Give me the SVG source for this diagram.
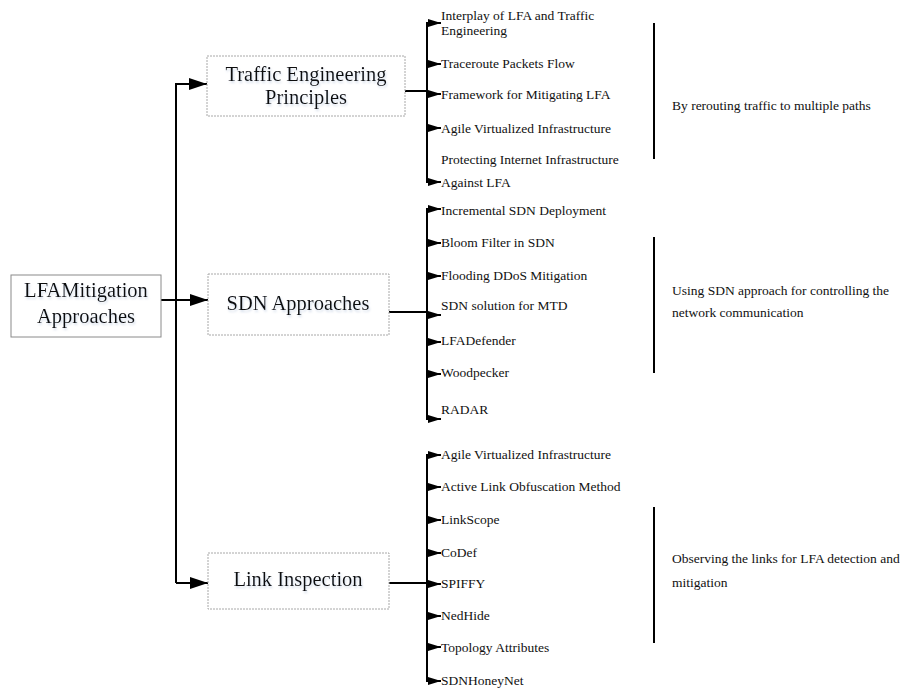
<svg xmlns="http://www.w3.org/2000/svg" width="916" height="688" viewBox="0 0 916 688">
  <defs>
    <marker id="arrowBig" markerUnits="userSpaceOnUse" markerWidth="19" markerHeight="13" refX="18" refY="6.5" orient="auto">
      <path d="M0,0.5 L18,6.5 L0,12.5 Z" fill="#000"/>
    </marker>
    <marker id="arrowSmall" markerUnits="userSpaceOnUse" markerWidth="14" markerHeight="9" refX="13" refY="4.5" orient="auto">
      <path d="M0,0.5 L13,4.5 L0,8.5 Z" fill="#000"/>
    </marker>
    <filter id="soft" x="-10%" y="-20%" width="120%" height="160%">
      <feDropShadow dx="1" dy="2" stdDeviation="1.2" flood-color="#9fb4d0" flood-opacity="0.45"/>
    </filter>
  </defs>
  <style>
    .root { fill: #fff; stroke: #8a8a8a; stroke-width: 1; }
    .box { fill: #fff; stroke: #a8a8a8; stroke-width: 1; stroke-dasharray: 2 1; }
    .ntext { font-family: "Liberation Serif", "Times New Roman", serif; font-size: 20.5px; fill: #111; text-anchor: middle; }
    .leaf { font-family: "Liberation Serif", "Times New Roman", serif; font-size: 13.5px; fill: #111; }
    .note { font-family: "Liberation Serif", "Times New Roman", serif; font-size: 13.5px; fill: #111; }
    .wire { fill: none; stroke: #000; stroke-width: 2; }
    .bar { stroke: #000; stroke-width: 2; }
  </style>
  <rect width="916" height="688" fill="#fff"/>

  <!-- connectors -->
  <g id="connectors">
    <!-- root to category trunk -->
    <path class="wire" d="M161,300 H176"/>
    <path class="wire" d="M176,83 V583"/>
    <path class="wire" d="M176,84 H207" marker-end="url(#arrowBig)"/>
    <path class="wire" d="M176,300 H208" marker-end="url(#arrowBig)"/>
    <path class="wire" d="M176,583 H208" marker-end="url(#arrowBig)"/>

    <!-- Traffic Engineering Principles branch -->
    <path class="wire" d="M405,91 H427"/>
    <path class="wire" d="M427,23 V182"/>
    <path class="wire" d="M426,23 H441" marker-end="url(#arrowSmall)"/>
    <path class="wire" d="M427,64 H441" marker-end="url(#arrowSmall)"/>
    <path class="wire" d="M427,94 H441" marker-end="url(#arrowSmall)"/>
    <path class="wire" d="M427,128 H441" marker-end="url(#arrowSmall)"/>
    <path class="wire" d="M426,182 H441" marker-end="url(#arrowSmall)"/>

    <!-- SDN Approaches branch -->
    <path class="wire" d="M389,312 H427"/>
    <path class="wire" d="M427,209 V419"/>
    <path class="wire" d="M426,209 H441" marker-end="url(#arrowSmall)"/>
    <path class="wire" d="M427,243 H441" marker-end="url(#arrowSmall)"/>
    <path class="wire" d="M427,276 H441" marker-end="url(#arrowSmall)"/>
    <path class="wire" d="M427,315 H441" marker-end="url(#arrowSmall)"/>
    <path class="wire" d="M427,342 H441" marker-end="url(#arrowSmall)"/>
    <path class="wire" d="M427,374 H441" marker-end="url(#arrowSmall)"/>
    <path class="wire" d="M426,419 H441" marker-end="url(#arrowSmall)"/>

    <!-- Link Inspection branch -->
    <path class="wire" d="M389,583 H427"/>
    <path class="wire" d="M427,455 V681"/>
    <path class="wire" d="M426,455 H441" marker-end="url(#arrowSmall)"/>
    <path class="wire" d="M427,487 H441" marker-end="url(#arrowSmall)"/>
    <path class="wire" d="M427,520 H441" marker-end="url(#arrowSmall)"/>
    <path class="wire" d="M427,553 H441" marker-end="url(#arrowSmall)"/>
    <path class="wire" d="M427,584 H441" marker-end="url(#arrowSmall)"/>
    <path class="wire" d="M427,616 H441" marker-end="url(#arrowSmall)"/>
    <path class="wire" d="M427,647 H441" marker-end="url(#arrowSmall)"/>
    <path class="wire" d="M426,681 H441" marker-end="url(#arrowSmall)"/>
  </g>

  <!-- root node -->
  <g id="root">
    <rect class="root" x="11" y="275" width="150" height="62"/>
    <text class="ntext" x="86" y="297" filter="url(#soft)">LFAMitigation</text>
    <text class="ntext" x="86" y="323" filter="url(#soft)">Approaches</text>
  </g>

  <!-- category nodes -->
  <g id="traffic-engineering">
    <rect class="box" x="207" y="56" width="198" height="60"/>
    <text class="ntext" x="306" y="81" filter="url(#soft)">Traffic Engineering</text>
    <text class="ntext" x="306" y="104" filter="url(#soft)">Principles</text>
  </g>
  <g id="sdn-approaches">
    <rect class="box" x="208" y="274" width="181" height="61"/>
    <text class="ntext" x="298" y="310" filter="url(#soft)">SDN Approaches</text>
  </g>
  <g id="link-inspection">
    <rect class="box" x="208" y="553" width="181" height="56"/>
    <text class="ntext" x="298" y="586" filter="url(#soft)">Link Inspection</text>
  </g>

  <!-- Traffic Engineering leaves -->
  <g id="te-leaves">
    <text class="leaf" x="441" y="20">Interplay of LFA and Traffic</text>
    <text class="leaf" x="441" y="35">Engineering</text>
    <text class="leaf" x="441" y="68">Traceroute Packets Flow</text>
    <text class="leaf" x="441" y="99">Framework for Mitigating LFA</text>
    <text class="leaf" x="441" y="133">Agile Virtualized Infrastructure</text>
    <text class="leaf" x="441" y="164">Protecting Internet Infrastructure</text>
    <text class="leaf" x="441" y="187">Against LFA</text>
  </g>

  <!-- SDN leaves -->
  <g id="sdn-leaves">
    <text class="leaf" x="441" y="215">Incremental SDN Deployment</text>
    <text class="leaf" x="441" y="247">Bloom Filter in SDN</text>
    <text class="leaf" x="441" y="280">Flooding DDoS Mitigation</text>
    <text class="leaf" x="441" y="310">SDN solution for MTD</text>
    <text class="leaf" x="441" y="345">LFADefender</text>
    <text class="leaf" x="441" y="377">Woodpecker</text>
    <text class="leaf" x="441" y="414">RADAR</text>
  </g>

  <!-- Link Inspection leaves -->
  <g id="li-leaves">
    <text class="leaf" x="441" y="459">Agile Virtualized Infrastructure</text>
    <text class="leaf" x="441" y="491">Active Link Obfuscation  Method</text>
    <text class="leaf" x="441" y="524">LinkScope</text>
    <text class="leaf" x="441" y="557">CoDef</text>
    <text class="leaf" x="441" y="588">SPIFFY</text>
    <text class="leaf" x="441" y="620">NedHide</text>
    <text class="leaf" x="441" y="652">Topology Attributes</text>
    <text class="leaf" x="441" y="685">SDNHoneyNet</text>
  </g>

  <!-- group annotations -->
  <g id="note-te">
    <line class="bar" x1="654" y1="23" x2="654" y2="159"/>
    <text class="note" x="672" y="110">By rerouting traffic to multiple paths</text>
  </g>
  <g id="note-sdn">
    <line class="bar" x1="654" y1="237" x2="654" y2="373"/>
    <text class="note" x="672" y="295">Using SDN approach for controlling the</text>
    <text class="note" x="672" y="317">network communication</text>
  </g>
  <g id="note-li">
    <line class="bar" x1="654" y1="507" x2="654" y2="643"/>
    <text class="note" x="672" y="563">Observing the links for LFA detection and</text>
    <text class="note" x="672" y="587">mitigation</text>
  </g>
</svg>
